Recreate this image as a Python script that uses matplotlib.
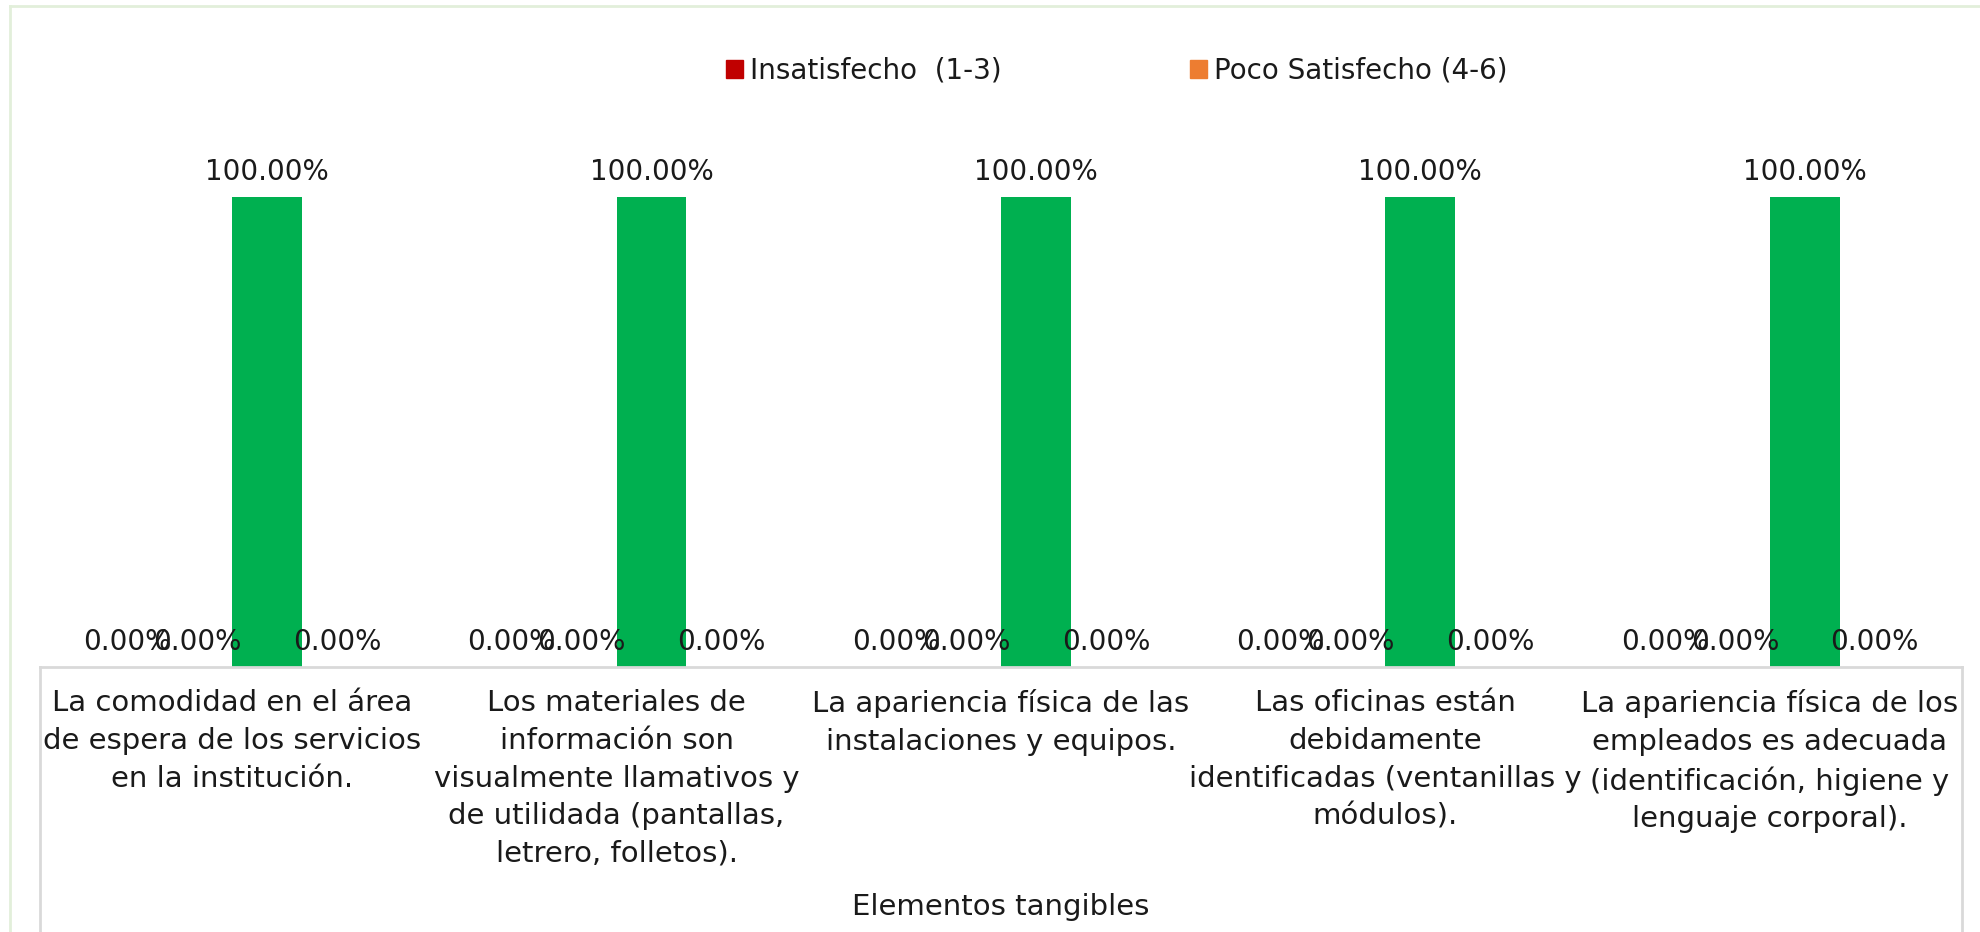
import numpy as np
import matplotlib.pyplot as plt
from matplotlib.patches import Patch
from matplotlib.lines import Line2D

plt.rcParams['font.family'] = ['DejaVu Sans']

categorias = [
    "La comodidad en el área\nde espera de los servicios\nen la institución.",
    "Los materiales de\ninformación son\nvisualmente llamativos y\nde utilidada (pantallas,\nletrero, folletos).",
    "La apariencia física de las\ninstalaciones y equipos.",
    "Las oficinas están\ndebidamente\nidentificadas (ventanillas y\nmódulos).",
    "La apariencia física de los\nempleados es adecuada\n(identificación, higiene y\nlenguaje corporal).",
]
grupo = "Elementos tangibles"

series = ["Insatisfecho  (1-3)", "Poco Satisfecho (4-6)", "Satisfecho", "Muy satisfecho"]
insatisfecho = [0.0, 0.0, 0.0, 0.0, 0.0]
poco_satisfecho = [0.0, 0.0, 0.0, 0.0, 0.0]
satisfecho = [1.0, 1.0, 1.0, 1.0, 1.0]
muy_satisfecho = [0.0, 0.0, 0.0, 0.0, 0.0]
colores = ["#C00000", "#ED7D31", "#00B050", "#70AD47"]

valores = [insatisfecho, poco_satisfecho, satisfecho, muy_satisfecho]

W, H = 1980, 932
fig = plt.figure(figsize=(W / 100, H / 100), dpi=100)
ax = fig.add_axes([40 / W, (H - 667) / H, 1922 / W, 564 / H])

x = np.arange(len(categorias))
ancho = 1 / 5.5
for i, (vals, col) in enumerate(zip(valores, colores)):
    pos = x + (i - 1.5) * ancho
    ax.bar(pos, vals, width=ancho, color=col)
    for xb, v in zip(pos, vals):
        ax.annotate(f"{v * 100:.2f}%", (xb, v), xytext=(0, 12),
                    textcoords="offset points", ha="center", va="baseline",
                    fontsize=20, color="#1a1a1a")

ax.set_xlim(-0.5, len(categorias) - 0.5)
ax.set_ylim(0, 1.2)
ax.set_yticks([])
ax.set_xticks(x)
ax.set_xticklabels(categorias, fontsize=21, color="#1a1a1a", linespacing=1.44)
ax.tick_params(axis="x", length=0, pad=16)
for s in ["top", "right", "left"]:
    ax.spines[s].set_visible(False)
ax.spines["bottom"].set_color("#d9d9d9")
ax.spines["bottom"].set_linewidth(2)

# caja del eje de categorias
for xp in [40, 1962]:
    fig.add_artist(Line2D([xp / W, xp / W], [0, (H - 667) / H],
                          transform=fig.transFigure, color="#d9d9d9", lw=2))

# borde del grafico
fig.add_artist(Line2D([10 / W, 1], [(H - 6) / H, (H - 6) / H],
                      transform=fig.transFigure, color="#e2efda", lw=2))
fig.add_artist(Line2D([10 / W, 10 / W], [0, (H - 6) / H],
                      transform=fig.transFigure, color="#e2efda", lw=2))

fig.text(1001 / W, (H - 907) / H, grupo, ha="center", va="center",
         fontsize=21, color="#1a1a1a")

handles = [Patch(color=colores[i], label=series[i]) for i in range(2)]
fig.legend(handles=handles, loc="center left", ncol=2,
           bbox_to_anchor=(726 / W, (H - 71) / H), frameon=False,
           fontsize=20, handlelength=0.6, handleheight=0.6,
           handletextpad=0.25, columnspacing=6.8, borderpad=0,
           borderaxespad=0, labelcolor="#1a1a1a")

fig.savefig("out.png", dpi=100, facecolor="white")
